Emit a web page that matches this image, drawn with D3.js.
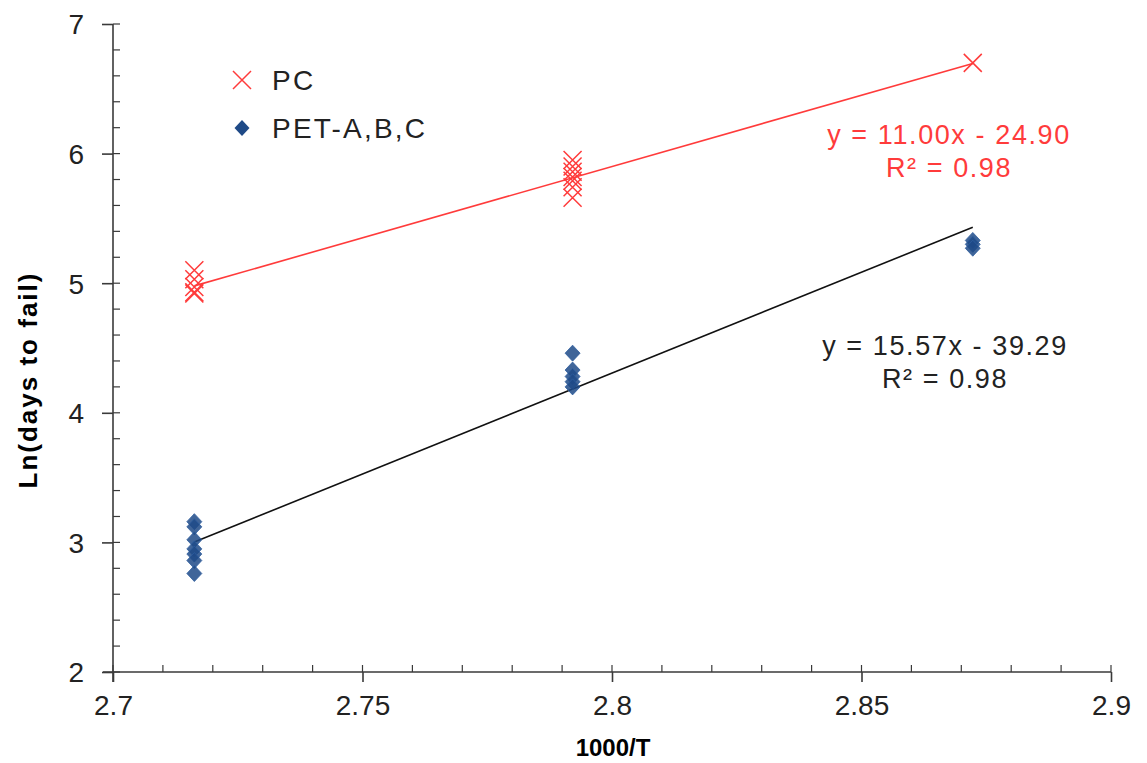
<!DOCTYPE html>
<html><head><meta charset="utf-8">
<script src="https://cdn.jsdelivr.net/npm/d3@7"></script>
<style>body{margin:0;background:#fff}svg{display:block}text{font-family:"Liberation Sans",Arial,sans-serif}</style>
</head><body><svg id="c" width="1147" height="763"></svg>
<script>
// Data
const xPC = [2.7163,2.7163,2.7163,2.7163,2.7163, 2.7921,2.7921,2.7921,2.7921,2.7921,2.7921,2.7921, 2.8723];
const yPC = [5.10,5.03,4.97,4.93,4.92, 5.95,5.90,5.86,5.82,5.79,5.74,5.66, 6.70];
const xPET = [2.7163,2.7163,2.7163,2.7163,2.7163,2.7163,2.7163, 2.7921,2.7921,2.7921,2.7921,2.7921, 2.8723,2.8723,2.8723];
const yPET = [3.16,3.12,3.02,2.95,2.91,2.86,2.76, 4.46,4.33,4.28,4.24,4.20, 5.33,5.30,5.27];
const fitPC = {slope:11.00, intercept:-24.90};
const fitPET = {slope:15.57, intercept:-39.29};
const xTicks = [2.7,2.75,2.8,2.85,2.9];
const yTicks = [2,3,4,5,6,7];
const seriesNames = ["PC","PET-A,B,C"];
const eqPC = ["y = 11.00x - 24.90","R² = 0.98"];
const eqPET = ["y = 15.57x - 39.29","R² = 0.98"];

const svg = d3.select("#c");
const x = d3.scaleLinear().domain([2.7,2.9]).range([113,1111]);
const y = d3.scaleLinear().domain([2,7]).range([672,24]);
const axisCol = "#3a3a3a";
const red = "#ff3b3b", blue = "#1f4a87";

// minor ticks
const g = svg.append("g");
const xMinor = d3.range(2.7,2.9001,0.01).map(v=>+v.toFixed(3));
const yMinor = d3.range(2,7.001,0.2).map(v=>+v.toFixed(2));
g.selectAll(".xm").data(xMinor).enter().append("line")
 .attr("x1",d=>x(d)).attr("x2",d=>x(d)).attr("y1",y(2)).attr("y2",y(2)-7)
 .attr("stroke",axisCol).attr("stroke-width",1.2);
g.selectAll(".ym").data(yMinor).enter().append("line")
 .attr("x1",x(2.7)).attr("x2",x(2.7)+7).attr("y1",d=>y(d)).attr("y2",d=>y(d))
 .attr("stroke",axisCol).attr("stroke-width",1.2);

// axes
const xAxis = d3.axisBottom(x).tickValues(xTicks).tickSize(10).tickPadding(6).tickFormat(d3.format("~g"));
const yAxis = d3.axisLeft(y).tickValues(yTicks).tickSize(11).tickPadding(18).tickFormat(d3.format("d"));
const gx = svg.append("g").attr("transform",`translate(0,${y(2)})`).call(xAxis);
const gy = svg.append("g").attr("transform",`translate(${x(2.7)},0)`).call(yAxis);
[gx,gy].forEach(a=>{
  a.select(".domain").attr("stroke",axisCol).attr("stroke-width",1.6);
  a.selectAll(".tick line").attr("stroke",axisCol).attr("stroke-width",1.6);
  a.selectAll(".tick text").attr("fill","#222").style("font-size","28px").style("font-family","'Liberation Sans',Arial,sans-serif");
});
gx.select(".domain").attr("d",`M${x(2.7)-10},0H${x(2.9)}`);
gy.select(".domain").attr("d",`M0,${y(7)}V${y(2)+10}`);
gx.selectAll(".tick text").attr("dy","0.95em");
gy.selectAll(".tick text").attr("dy","0.35em");

// axis titles
svg.append("text").attr("x",613).attr("y",756).attr("text-anchor","middle")
 .style("font-size","24px").style("font-weight","bold").text("1000/T");
svg.append("text").attr("transform","translate(37,380) rotate(-90)").attr("text-anchor","middle")
 .style("font-size","26px").style("font-weight","bold").style("letter-spacing","2px").text("Ln(days to fail)");

// trendlines
function fitLine(xs, f, col){
  const ext = d3.extent(xs);
  svg.append("line").attr("x1",x(ext[0])).attr("y1",y(f.slope*ext[0]+f.intercept))
    .attr("x2",x(ext[1])).attr("y2",y(f.slope*ext[1]+f.intercept))
    .attr("stroke",col).attr("stroke-width",1.6);
}
fitLine(xPC, fitPC, red);
fitLine(xPET, fitPET, "#111");

// markers
const diamond = (cx,cy)=>`M${cx},${cy-8}L${cx+7.5},${cy}L${cx},${cy+8}L${cx-7.5},${cy}Z`;
const cross = (cx,cy)=>`M${cx-9},${cy-9}L${cx+9},${cy+9}M${cx-9},${cy+9}L${cx+9},${cy-9}`;
svg.append("g").selectAll("path").data(d3.range(xPET.length)).enter().append("path")
 .attr("d",i=>diamond(x(xPET[i]),y(yPET[i]))).attr("fill",blue).attr("fill-opacity",0.85).attr("stroke","#2d5d9e").attr("stroke-width",0.8);
svg.append("g").selectAll("path").data(d3.range(xPC.length)).enter().append("path")
 .attr("d",i=>cross(x(xPC[i]),y(yPC[i]))).attr("fill","none").attr("stroke",red).attr("stroke-width",1.5);

// legend
svg.append("path").attr("d",cross(242,80)).attr("stroke",red).attr("stroke-width",1.5).attr("fill","none");
svg.append("path").attr("d",diamond(242,128)).attr("fill",blue);
svg.selectAll(".leg").data(seriesNames).enter().append("text")
 .attr("x",272).attr("y",(d,i)=>80+i*48).attr("dy","0.35em")
 .style("font-size","28px").style("letter-spacing","2.2px").attr("fill","#222").text(d=>d);

// equations
function eq(lines, cx, y0, col){
  svg.append("g").selectAll("text").data(lines).enter().append("text")
   .attr("x",cx).attr("y",(d,i)=>y0+i*33).attr("text-anchor","middle")
   .style("font-size","27px").style("letter-spacing","1.6px").attr("fill",col).text(d=>d);
}
eq(eqPC, 949, 144, red);
eq(eqPET, 945, 355, "#222");
</script></body></html>
